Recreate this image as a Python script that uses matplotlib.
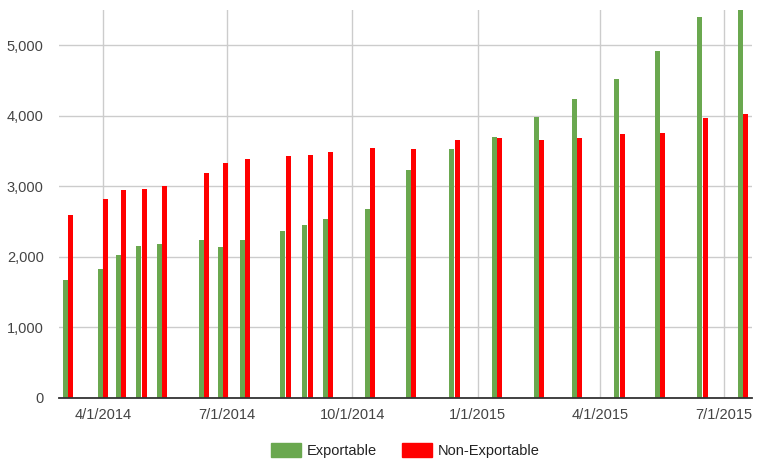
import numpy as np
import pandas as pd
import matplotlib
matplotlib.use('Agg')
import matplotlib.pyplot as plt
import matplotlib.dates as mdates
from matplotlib.patches import Patch
from matplotlib.ticker import FuncFormatter

plt.rcParams['font.family'] = ['Liberation Sans', 'DejaVu Sans']

# data
dates = ['2014-03-06', '2014-04-01', '2014-04-14', '2014-04-29', '2014-05-14',
         '2014-06-14', '2014-06-28', '2014-07-14', '2014-08-13', '2014-08-29',
         '2014-09-13', '2014-10-14', '2014-11-13', '2014-12-15', '2015-01-15',
         '2015-02-15', '2015-03-15', '2015-04-15', '2015-05-15', '2015-06-15',
         '2015-07-15']
exportable = [1670, 1830, 2030, 2150, 2180, 2240, 2140, 2240, 2370, 2450,
              2540, 2680, 3230, 3530, 3700, 3990, 4235, 4520, 4915, 5400, 5500]
non_exportable = [2590, 2820, 2950, 2960, 3000, 3190, 3330, 3390, 3430, 3440,
                  3480, 3540, 3530, 3650, 3680, 3650, 3680, 3740, 3750, 3970, 4020]
tick_dates = ['2014-04-01', '2014-07-01', '2014-10-01', '2015-01-01',
              '2015-04-01', '2015-07-01']
tick_labels = ['4/1/2014', '7/1/2014', '10/1/2014', '1/1/2015', '4/1/2015', '7/1/2015']

green = '#6aa84f'
red = '#ff0000'

x = mdates.date2num(pd.to_datetime(dates))
xt = mdates.date2num(pd.to_datetime(tick_dates))

fig = plt.figure(figsize=(7.69, 4.67), dpi=100)
ax = fig.add_axes([0.0767, 0.1478, 0.9013, 0.8308])

w = 3.65
ax.bar(x - w / 2 - 0.18, exportable, width=w, color=green, zorder=3)
ax.bar(x + w / 2 + 0.18, non_exportable, width=w, color=red, zorder=3)

ax.set_xlim(mdates.date2num(pd.Timestamp('2014-02-27 12:00')),
            mdates.date2num(pd.Timestamp('2015-07-21 12:00')))
ax.set_ylim(0, 5500)

ax.set_xticks(xt)
ax.set_xticklabels(tick_labels)
ax.set_yticks(np.arange(0, 5001, 1000))
ax.yaxis.set_major_formatter(FuncFormatter(lambda v, p: f'{int(v):,}'))

ax.grid(True, color='#cccccc', linewidth=1, zorder=0)
ax.set_axisbelow(True)
for s in ['top', 'right', 'left']:
    ax.spines[s].set_visible(False)
ax.spines['bottom'].set_color('#333333')
ax.spines['bottom'].set_linewidth(1.3)
ax.spines['bottom'].set_zorder(4)
ax.tick_params(length=0, labelsize=10.5, colors='#444444')
ax.tick_params(axis='y', pad=11)
ax.tick_params(axis='x', pad=7)

handles = [Patch(color=green, label='Exportable'),
           Patch(color=red, label='Non-Exportable')]
fig.legend(handles=handles, loc='lower center', bbox_to_anchor=(0.527, -0.009),
           ncol=2, frameon=False, fontsize=10.5, handlelength=2.05,
           handleheight=1.03, handletextpad=0.41, columnspacing=1.7,
           labelcolor='#222222')

fig.savefig('out.png', dpi=100)
